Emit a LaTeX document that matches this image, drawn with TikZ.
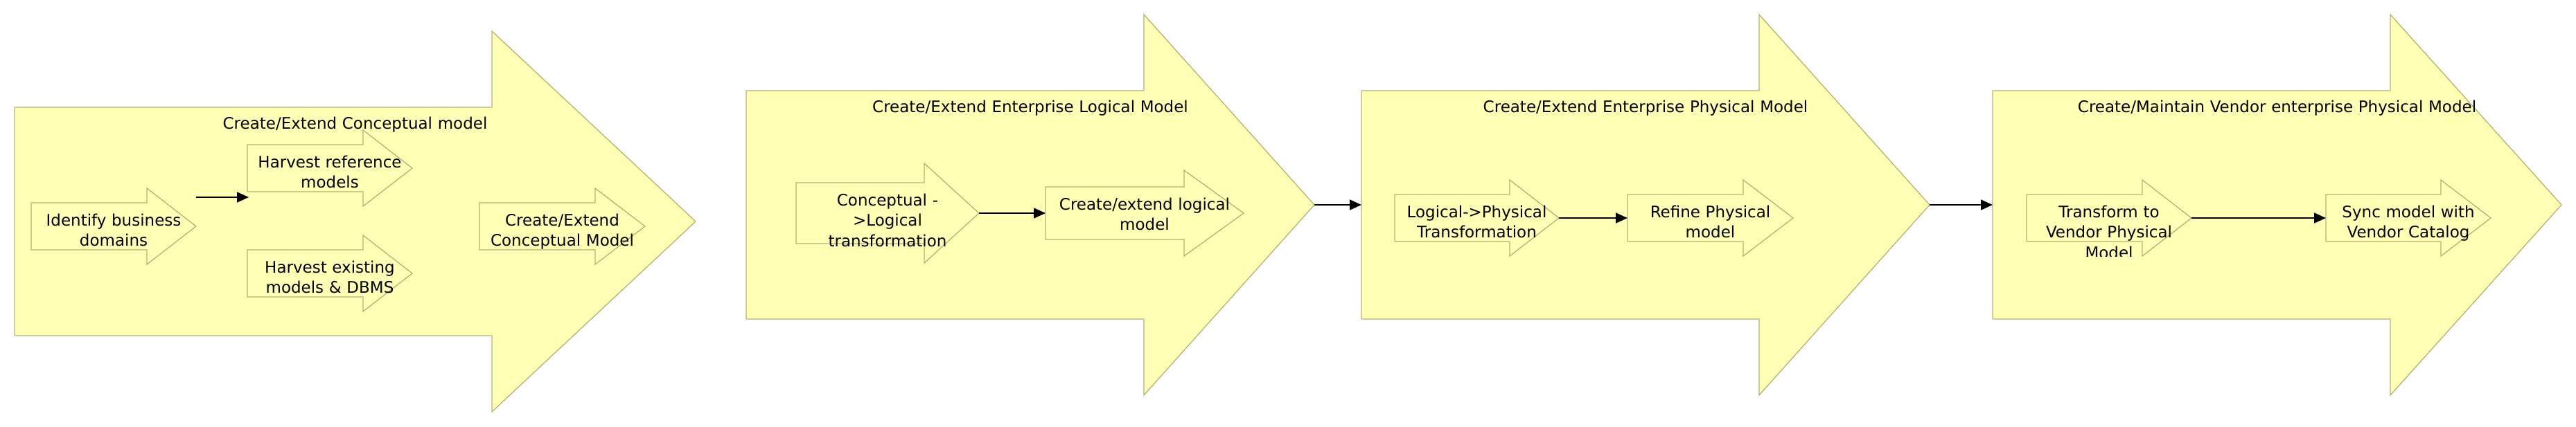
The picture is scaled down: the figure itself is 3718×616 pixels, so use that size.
\documentclass[tikz,border=0pt]{standalone}
\usepackage{fontspec}
\setmainfont{DejaVu Sans}
\usetikzlibrary{arrows.meta}

\definecolor{pfeilgelb}{RGB}{255,255,181}
\definecolor{pfeiloliv}{RGB}{181,179,121}

\tikzset{
  pfeilrand/.style={draw=pfeiloliv, fill=pfeilgelb, line width=1.3pt, line join=miter},
  beschriftung/.style={font=\fontsize{23}{29.5}\selectfont, align=center, inner sep=0pt},
  verbindung/.style={line width=1.7pt, -{Triangle[length=17pt,width=15pt]}}
}

% Pfeil: Name, x links, y Mitte, Schaftlaenge, Spitzenlaenge, halbe Schafthoehe, halbe Spitzenhoehe, Textabstand, Text
\newcommand{\prozesspfeil}[9]{%
  \coordinate (#1-tail) at (#2,#3);
  \coordinate (#1-tip) at ({#2+#4+#5},#3);
  \draw[pfeilrand] (#2,{#3-#6}) -- ++(#4,0) -- ++(0,{#6-#7}) -- (#1-tip)
    -- ({#2+#4},{#3+#7}) -- ++(0,{#6-#7}) -- (#2,{#3+#6}) -- cycle;
  \pgfmathsetmacro{\pfeilbreite}{#4+#5}
  \begin{scope}
    \clip (#2,{#3-#7}) rectangle ({#2+#4+#5},{#3+#7});
    \node[beschriftung, text width=\pfeilbreite pt, anchor=base] (#1) at ({#2+(#4+#5)/2},{#3-#6+#8}) {#9};
  \end{scope}
}

\begin{document}
\begin{tikzpicture}[x=1pt,y=-1pt]
  \path[use as bounding box, fill=white] (0,0) rectangle (3718,616);

  % Pfeil 1: konzeptuelles Modell
  \prozesspfeil{konz}{21}{320}{689}{294}{165}{275}{31}{Create/Extend Conceptual model}
  \prozesspfeil{idf}{45}{327}{167}{71}{34}{55}{33}{Identify business\\domains}
  \prozesspfeil{hrm}{357}{243}{167}{71}{34}{55}{33}{Harvest reference\\models}
  \prozesspfeil{hem}{357}{395}{167}{71}{34}{55}{33}{Harvest existing\\models \& DBMS}
  \prozesspfeil{ccm}{692}{327}{167}{72}{34}{55}{33}{Create/Extend\\Conceptual Model}
  \coordinate (k1a) at (283,285);
  \coordinate (k1b) at (359,285);

  % Pfeil 2: logisches Modell
  \prozesspfeil{logm}{1077}{296}{574}{246}{165}{275}{31}{Create/Extend Enterprise Logical Model}
  \prozesspfeil{kzl}{1149}{308}{185}{79}{44}{72}{33}{Conceptual -\\>Logical\\transformation}
  \prozesspfeil{cel}{1509}{308}{200}{86}{38}{62}{33}{Create/extend logical\\model}

  % Pfeil 3: physisches Modell
  \prozesspfeil{phym}{1965}{296}{574}{246}{165}{275}{31}{Create/Extend Enterprise Physical Model}
  \prozesspfeil{lph}{2013}{315}{166}{71}{34}{55}{33}{Logical->Physical\\Transformation}
  \prozesspfeil{rph}{2349}{315}{167}{72}{34}{55}{33}{Refine Physical\\model}

  % Pfeil 4: Hersteller-Modell
  \prozesspfeil{venm}{2876}{296}{574}{247}{165}{275}{31}{Create/Maintain Vendor enterprise Physical Model}
  \prozesspfeil{tvp}{2925}{315}{167}{71}{34}{55}{33}{Transform to\\Vendor Physical\\Model}
  \prozesspfeil{svc}{3357}{315}{166}{72}{34}{55}{33}{Sync model with\\Vendor Catalog}

  % Verbindungen
  \draw[verbindung] (k1a) -- (k1b);
  \draw[verbindung] (kzl-tip) -- (cel-tail);
  \draw[verbindung] (logm-tip) -- (phym-tail);
  \draw[verbindung] (lph-tip) -- (rph-tail);
  \draw[verbindung] (phym-tip) -- (venm-tail);
  \draw[verbindung] (tvp-tip) -- (svc-tail);
\end{tikzpicture}
\end{document}
